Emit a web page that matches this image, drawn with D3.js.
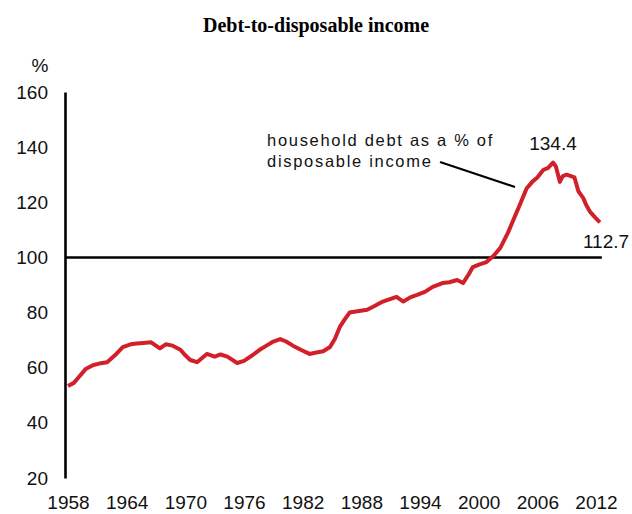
<!DOCTYPE html>
<html>
<head>
<meta charset="utf-8">
<script src="https://cdn.jsdelivr.net/npm/d3@7"></script>
<style>
  body { margin: 0; background: #fff; }
  text { font-family: "Liberation Sans", Arial, sans-serif; }
</style>
</head>
<body>
<div id="chart"></div>
<script>
// Household debt as % of disposable income
const years = [1958.0, 1958.6, 1959.2, 1959.8, 1960.6, 1961.2, 1962.0, 1962.8, 1963.6, 1964.4,
  1965.0, 1965.7, 1966.5, 1967.4, 1968.0, 1968.7, 1969.5, 1970.0, 1970.5, 1971.2,
  1972.2, 1973.0, 1973.6, 1974.3, 1975.3, 1976.0, 1976.9, 1977.6, 1978.3, 1979.0,
  1979.7, 1980.3, 1981.0, 1981.8, 1982.7, 1983.4, 1984.1, 1984.8, 1985.3, 1985.8,
  1986.3, 1986.8, 1987.6, 1988.6, 1989.4, 1990.2, 1991.0, 1991.6, 1992.3, 1993.0,
  1993.7, 1994.5, 1995.3, 1996.3, 1997.0, 1997.8, 1998.4, 1999.0, 1999.4, 2000.1,
  2000.8, 2001.5, 2002.2, 2003.0, 2003.6, 2004.2, 2004.9, 2005.5, 2006.0, 2006.6,
  2007.1, 2007.6, 2007.9, 2008.3, 2008.6, 2009.0, 2009.8, 2010.2, 2010.7, 2011.0,
  2011.4, 2011.9, 2012.4];
const debt = [53.4, 54.5, 57, 59.5, 61, 61.5, 62, 64.5, 67.5, 68.5,
  68.8, 69, 69.2, 67, 68.5, 68, 66.5, 64.5, 62.8, 62,
  65, 64, 64.8, 64, 61.7, 62.5, 64.6, 66.5, 68, 69.5,
  70.4, 69.5, 68, 66.5, 65, 65.5, 66, 67.5, 70.5, 74.8,
  77.5, 80, 80.5, 81, 82.5, 84, 85, 85.7, 84, 85.5,
  86.4, 87.5, 89.3, 90.7, 91, 91.8, 90.7, 94, 96.5, 97.5,
  98.3, 100.5, 103.4, 109, 114, 119, 125, 127.5, 129, 131.7,
  132.5, 134.4, 133, 127.4, 129.5, 130, 129, 124, 121.5, 119,
  116.5, 114.5, 112.7];

const yTicks = [20, 40, 60, 80, 100, 120, 140, 160];
const xTicks = [1958, 1964, 1970, 1976, 1982, 1988, 1994, 2000, 2006, 2012];

const peakLabel = '134.4';
const lastLabel = '112.7';

const width = 632;
const height = 514;

const svg = d3.select('#chart')
  .append('svg')
  .attr('width', width)
  .attr('height', height);

const x = d3.scaleLinear().domain([1958, 2012]).range([68, 596]);
const y = d3.scaleLinear().domain([20, 160]).range([478, 92]);
const axisX = 65;

// Title
svg.append('text')
  .attr('x', 316)
  .attr('y', 32)
  .attr('text-anchor', 'middle')
  .style('font-family', '"Liberation Serif", "Times New Roman", serif')
  .style('font-weight', 'bold')
  .style('font-size', '20px')
  .text('Debt-to-disposable income');

// Y axis
const yAxis = svg.append('g')
  .attr('transform', `translate(${axisX},0)`)
  .call(d3.axisLeft(y).tickValues(yTicks).tickSize(0).tickPadding(17));
yAxis.select('.domain').attr('stroke', '#000').attr('stroke-width', 2.6);
yAxis.selectAll('text')
  .style('font-family', '"Liberation Sans", Arial, sans-serif')
  .style('font-size', '19px')
  .attr('fill', '#111');

svg.append('text')
  .attr('x', 40)
  .attr('y', 72)
  .attr('text-anchor', 'middle')
  .style('font-size', '19px')
  .attr('fill', '#111')
  .text('%');

// X axis (labels only)
const xAxis = svg.append('g')
  .attr('transform', `translate(0,${y(20)})`)
  .call(d3.axisBottom(x).tickValues(xTicks).tickFormat(d3.format('d')).tickSize(0).tickPadding(18));
xAxis.select('.domain').remove();
xAxis.selectAll('text')
  .style('font-family', '"Liberation Sans", Arial, sans-serif')
  .style('font-size', '19px')
  .attr('fill', '#111');

// 100% reference line
svg.append('line')
  .attr('x1', axisX)
  .attr('x2', x(2012.6))
  .attr('y1', y(100))
  .attr('y2', y(100))
  .attr('stroke', '#000')
  .attr('stroke-width', 2.4);

// Series
const data = years.map((yr, i) => ({ year: yr, value: debt[i] }));
const line = d3.line()
  .x((d) => x(d.year))
  .y((d) => y(d.value));

svg.append('path')
  .datum(data)
  .attr('d', line)
  .attr('fill', 'none')
  .attr('stroke', '#d2202a')
  .attr('stroke-width', 4)
  .attr('stroke-linejoin', 'round');

// Annotation
const note = svg.append('text')
  .style('font-size', '16.5px')
  .style('letter-spacing', '1.7px')
  .attr('fill', '#111');
note.append('tspan').attr('x', 267).attr('y', 146).text('household debt as a % of');
note.append('tspan').attr('x', 267).attr('y', 167).text('disposable income');

svg.append('line')
  .attr('x1', 440)
  .attr('y1', 162)
  .attr('x2', 515)
  .attr('y2', 187)
  .attr('stroke', '#000')
  .attr('stroke-width', 2);

svg.append('text')
  .attr('x', x(2007.6))
  .attr('y', 150)
  .attr('text-anchor', 'middle')
  .style('font-size', '19px')
  .attr('fill', '#111')
  .text(peakLabel);

svg.append('text')
  .attr('x', 606)
  .attr('y', 248)
  .attr('text-anchor', 'middle')
  .style('font-size', '19px')
  .attr('fill', '#111')
  .text(lastLabel);
</script>
</body>
</html>
